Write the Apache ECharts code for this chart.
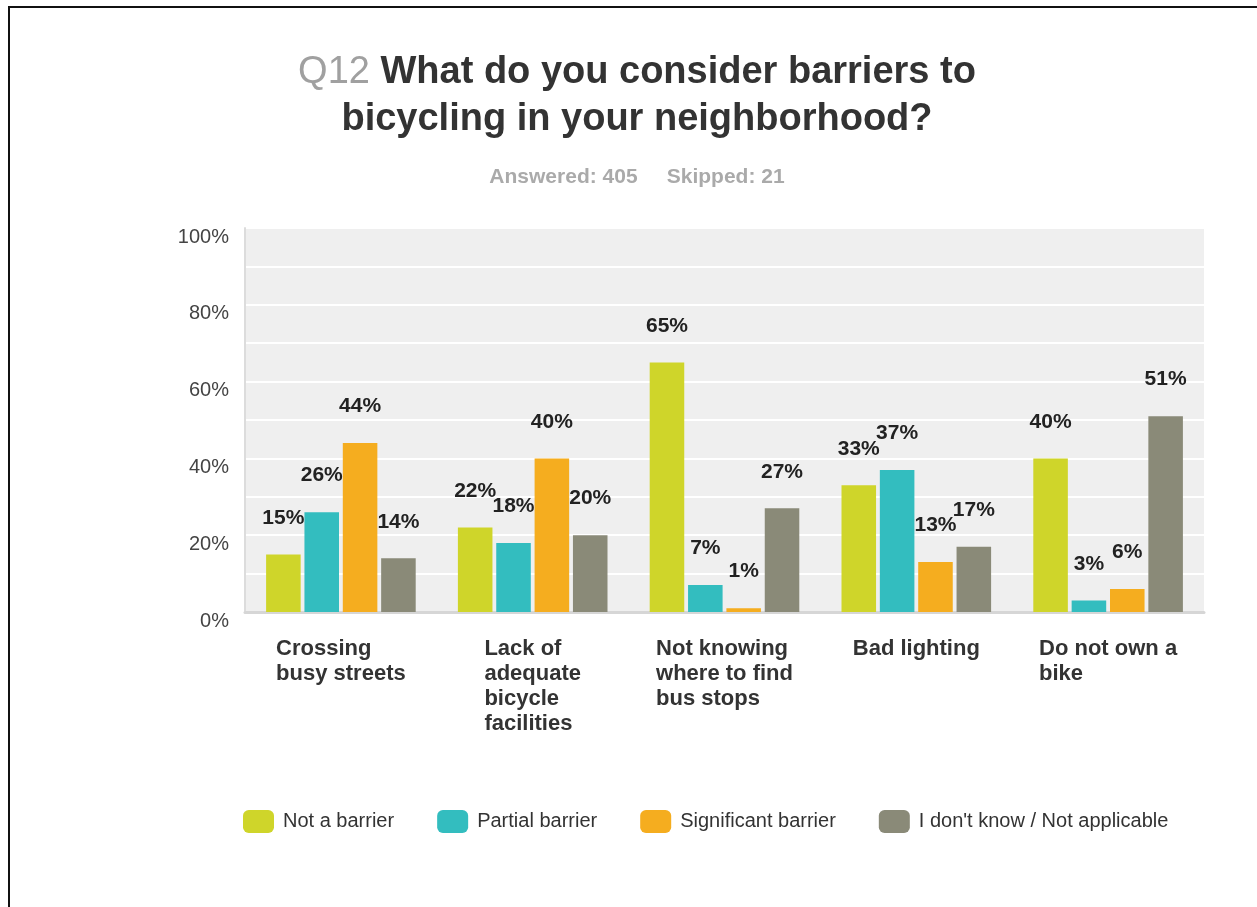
<!DOCTYPE html>
<html>
<head>
<meta charset="utf-8">
<title>Q12 Barriers to bicycling</title>
<script src="https://cdn.jsdelivr.net/npm/echarts@6/dist/echarts.min.js"></script>
<style>
  html, body { margin: 0; padding: 0; background: #fff; }
  #frame { position: absolute; left: 8px; top: 6px; right: 0; bottom: 0;
           border-left: 2px solid #111; border-top: 2px solid #111; }
  #chart { position: absolute; left: 0; top: 0; width: 1257px; height: 907px; }
</style>
</head>
<body>
<div id="chart"></div>
<div id="frame"></div>
<script>
// Survey question and response counts
const questionNo = 'Q12';
const questionLines = ['What do you consider barriers to', 'bicycling in your neighborhood?'];
const answered = 405;
const skipped = 21;

// Answer choices (x axis)
const categories = [
  'Crossing\nbusy streets',
  'Lack of\nadequate\nbicycle\nfacilities',
  'Not knowing\nwhere to find\nbus stops',
  'Bad lighting',
  'Do not own a\nbike'
];

// Share of respondents per rating, in percent
const seriesNames = ['Not a barrier', 'Partial barrier', 'Significant barrier', "I don't know / Not applicable"];
const notABarrier      = [15, 22, 65, 33, 40];
const partialBarrier   = [26, 18, 7, 37, 3];
const significant      = [44, 40, 1, 13, 6];
const dontKnow         = [14, 20, 27, 17, 51];

const colors = ['#cfd52a', '#33bdbf', '#f5ad1f', '#8a8a78'];
const FONT = '"Liberation Sans", Arial, Helvetica, sans-serif';

const chart = echarts.init(document.getElementById('chart'), null, { renderer: 'canvas' });

const valueSets = [notABarrier, partialBarrier, significant, dontKnow];

const series = seriesNames.map((name, i) => ({
  name: name,
  type: 'bar',
  data: valueSets[i],
  barGap: '11%',
  barCategoryGap: '22%',
  itemStyle: { color: colors[i] },
  label: {
    show: true,
    position: 'top',
    distance: 26,
    formatter: p => p.value + '%',
    fontFamily: FONT,
    fontSize: 21,
    fontWeight: 'bold',
    color: '#222'
  }
}));

chart.setOption({
  animation: false,
  textStyle: { fontFamily: FONT },
  title: [
    {
      text: '{q|' + questionNo + '}{b| ' + questionLines[0] + '}\n{b|' + questionLines[1] + '}',
      left: 632,
      top: 44,
      textAlign: 'center',
      textStyle: {
        rich: {
          q: { fontFamily: FONT, fontSize: 38, fontWeight: 'normal', color: '#a0a0a0', lineHeight: 47 },
          b: { fontFamily: FONT, fontSize: 38, fontWeight: 'bold', color: '#333', lineHeight: 47 }
        }
      }
    },
    {
      text: 'Answered: ' + answered + '     Skipped: ' + skipped,
      left: 632,
      top: 162,
      textAlign: 'center',
      textStyle: { fontFamily: FONT, fontSize: 21, fontWeight: 'bold', color: '#aaaaaa' }
    }
  ],
  legend: {
    data: seriesNames,
    left: 243,
    top: 810,
    padding: 0,
    itemWidth: 31,
    itemHeight: 23,
    itemGap: 43,
    icon: 'roundRect',
    itemStyle: { borderRadius: 3 },
    textStyle: { fontFamily: FONT, fontSize: 20, color: '#333', padding: [0, 0, 0, 4] }
  },
  grid: {
    left: 245,
    right: 53,
    top: 228,
    bottom: 295,
    show: true,
    backgroundColor: '#efefef',
    borderWidth: 0,
    containLabel: false
  },
  xAxis: {
    type: 'category',
    data: categories,
    axisLine: { show: true, lineStyle: { color: '#d6d6d6', width: 3 } },
    axisTick: { show: false },
    axisLabel: {
      interval: 0,
      margin: 24,
      align: 'center',
      formatter: v => v.split('\n').map(s => '{l|' + s + '}').join('\n'),
      rich: {
        l: { align: 'left', fontFamily: FONT, fontSize: 22, fontWeight: 'bold', color: '#333', lineHeight: 25 }
      }
    }
  },
  yAxis: {
    type: 'value',
    min: 0,
    max: 100,
    interval: 10,
    axisLine: { show: true, lineStyle: { color: '#dcdcdc', width: 2 } },
    axisTick: { show: false },
    splitLine: { show: true, lineStyle: { color: '#ffffff', width: 2 } },
    axisLabel: {
      margin: 16,
      verticalAlign: 'top',
      lineHeight: 18,
      fontFamily: FONT,
      fontSize: 20,
      color: '#444',
      formatter: v => (v % 20 === 0 ? v + '%' : '')
    }
  },
  series: series
});
</script>
</body>
</html>
